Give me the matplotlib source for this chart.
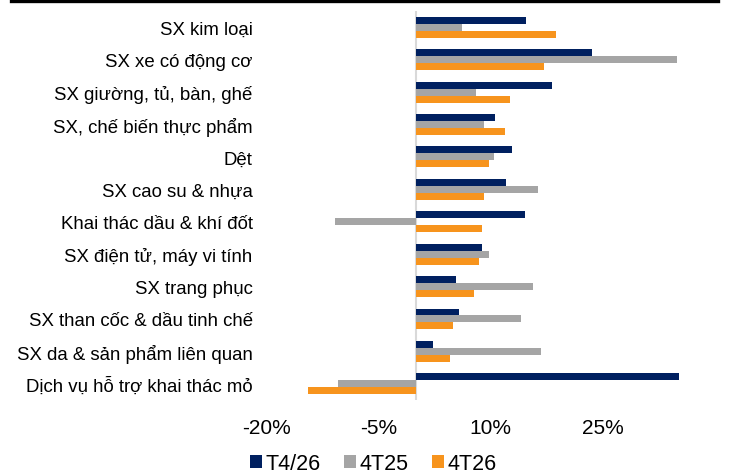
import matplotlib
matplotlib.use("Agg")
import matplotlib.pyplot as plt
from matplotlib.lines import Line2D
from matplotlib.patches import Patch
import numpy as np

# ── Data ───────────────────────────────────────────────────────────────────
categories = [
    "SX kim loại",
    "SX xe có động cơ",
    "SX giường, tủ, bàn, ghế",
    "SX, chế biến thực phẩm",
    "Dệt",
    "SX cao su & nhựa",
    "Khai thác dầu & khí đốt",
    "SX điện tử, máy vi tính",
    "SX trang phục",
    "SX than cốc & dầu tinh chế",
    "SX da & sản phẩm liên quan",
    "Dịch vụ hỗ trợ khai thác mỏ",
]
t4_26 = [14.7, 23.6, 18.2, 10.6, 12.8, 12.1, 14.6, 8.9, 5.4, 5.8, 2.3, 35.2]
y4t25 = [6.2, 35.0, 8.0, 9.1, 10.5, 16.3, -10.8, 9.8, 15.7, 14.1, 16.7, -10.5]
y4t26 = [18.7, 17.1, 12.6, 11.9, 9.8, 9.1, 8.9, 8.5, 7.8, 5.0, 4.5, -14.5]
series_names = ["T4/26", "4T25", "4T26"]
xticks = [-20, -5, 10, 25]

colors = ["#002060", "#A5A5A5", "#F7941D"]

plt.rcParams["font.family"] = ["Liberation Sans", "DejaVu Sans"]

fig = plt.figure(figsize=(7.35, 4.77), dpi=100)
ax = fig.add_axes([0.3627, 0.1593, 0.6098, 0.8155])

y = np.arange(len(categories))
h = 0.215
for i, (vals, c, name) in enumerate(zip([t4_26, y4t25, y4t26], colors, series_names)):
    ax.barh(y + (i - 1) * h, vals, height=h, color=c, label=name)

ax.set_ylim(len(categories) - 0.5, -0.5)
ax.set_xlim(-20, 40)
ax.set_yticks(y)
ax.set_yticklabels(categories, fontsize=13.4)
ax.set_xticks(xticks)
ax.set_xticklabels([f"{v}%" for v in xticks], fontsize=15)
ax.tick_params(axis="both", length=0)
ax.tick_params(axis="y", pad=10)
ax.tick_params(axis="x", pad=13)
for s in ax.spines.values():
    s.set_visible(False)
ax.axvline(0, color="#D9D9D9", linewidth=1.5, zorder=0, ymin=-0.01)

handles = [Patch(facecolor=c, edgecolor="none") for c in colors]
fig.legend(handles, series_names, loc="lower center", bbox_to_anchor=(0.508, -0.037),
           ncol=3, frameon=False, fontsize=15.5, handlelength=0.55, handleheight=0.55,
           handletextpad=0.15, columnspacing=1.1)

# header rule at the top
fig.add_artist(Line2D([11 / 735, 718 / 735], [1 - 1.5 / 477, 1 - 1.5 / 477],
                      color="black", linewidth=2.4, transform=fig.transFigure))

fig.savefig("out.png", dpi=100)
